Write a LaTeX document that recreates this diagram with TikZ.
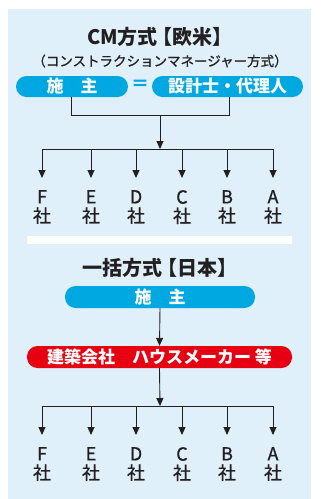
\documentclass[tikz,border=0pt]{standalone}
\usepackage{fontspec}
\setmainfont{Noto Sans CJK JP}
\newfontfamily\medfont[FakeBold=0.8]{Noto Sans CJK JP}
\usetikzlibrary{arrows.meta}
\definecolor{bgblue}{HTML}{DFF0FA}
\definecolor{cyanp}{HTML}{00A8E1}
\definecolor{redp}{HTML}{E60012}
\definecolor{ink}{HTML}{231F20}
\begin{document}
\begin{tikzpicture}[x=1pt,y=-1pt,
  pill/.style={rounded corners=10.5pt, minimum height=21pt, inner sep=0pt, text=white,
    font=\bfseries\fontsize{17}{17}\selectfont},
  ln/.style={draw=ink, line width=0.9pt},
  arr/.style={ln, -{Triangle[width=7pt,length=8pt]}},
  co/.style={inner xsep=0pt, inner ysep=12pt, anchor=north, align=center, text=ink,
    font=\medfont\fontsize{18}{19}\selectfont},
  ttl/.style={text=ink, inner sep=0pt, font=\bfseries\fontsize{20}{20}\selectfont}]
\useasboundingbox (0,0) rectangle (322,499);
\fill[bgblue] (8,9) rectangle (311,499);
\fill[white] (27,236) rectangle (292,244);

% ---- CM方式 ----
\node[ttl] (t1) at (160,37) {CM方式\kern-5pt【欧米】};
\node[text=ink, inner sep=0pt, font=\medfont\fontsize{13.5}{13.5}\selectfont] (s1) at (160,61) {（コンストラクションマネージャー方式）};
\node[pill, fill=cyanp, minimum width=112pt] (own1) at (72,86.5) {施　主};
\node[text=cyanp, inner sep=0pt, font=\bfseries\fontsize{18}{18}\selectfont] (eq) at (140,85.5) {＝};
\node[pill, fill=cyanp, minimum width=151pt] (des) at (227.5,86.5) {設計士・代理人};

\coordinate (j1) at (71,115);
\coordinate (j2) at (229,115);
\coordinate (b1) at (160,149);
\draw[ln] (own1.south -| j1) -- (j1) -- (j2) -- (des.south -| j2);
\draw[arr] (j1 -| b1) -- (b1);

\foreach \n/\x/\l in {f1/42/F, e1/91/E, d1/136/D, c1/182/C, bb1/227/B, a1/273/A}{
  \node[co] (\n) at (\x,178) {\l\\社};
  \draw[arr] (\n |- b1) -- (\n.north);
}
\draw[ln] (f1 |- b1) -- (a1 |- b1);

% ---- 一括方式 ----
\node[ttl] (t2) at (160,268) {一括方式\kern-5pt【日本】};
\node[pill, fill=cyanp, minimum width=190pt, minimum height=22pt] (own2) at (160,297) {施　主};
\node[pill, fill=redp, minimum width=265pt, minimum height=22pt] (gc) at (159.5,357) {建築会社　ハウスメーカー 等};
\draw[arr] (own2.south) -- (gc.north);
\coordinate (b2) at (160,406);
\draw[arr] (gc.south) -- (b2);

\foreach \n/\x/\l in {f2/42/F, e2/91/E, d2/136/D, c2/182/C, bb2/227/B, a2/273/A}{
  \node[co] (\n) at (\x,435) {\l\\社};
  \draw[arr] (\n |- b2) -- (\n.north);
}
\draw[ln] (f2 |- b2) -- (a2 |- b2);
\end{tikzpicture}
\end{document}
